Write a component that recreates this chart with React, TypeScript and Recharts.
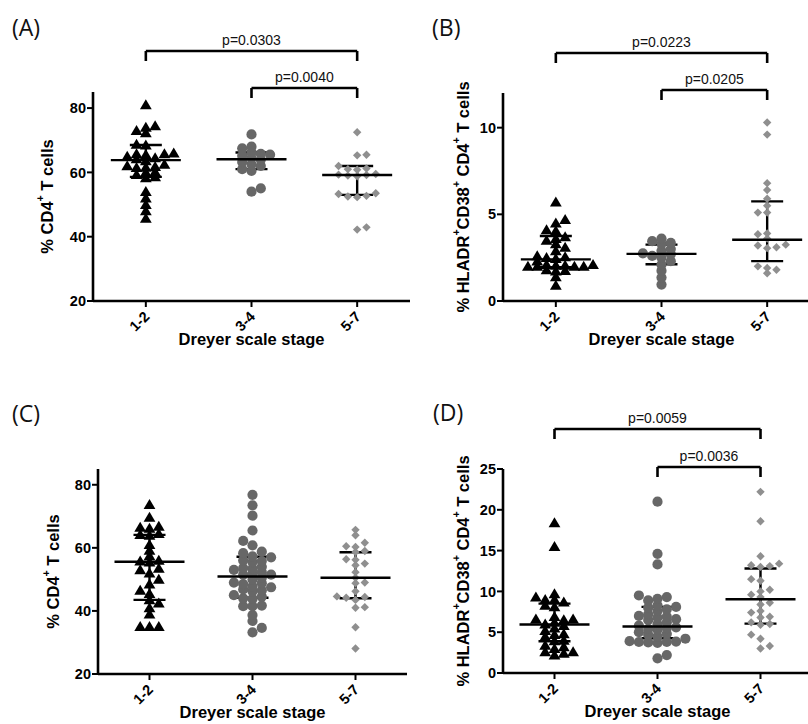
import React from 'react';
import { ScatterChart, Scatter, XAxis, YAxis, ReferenceLine, ErrorBar, Label } from 'recharts';

const FONT = "'Liberation Sans', Arial, Helvetica, sans-serif";

const stages = ['1-2', '3-4', '5-7'];
const stagePositions = [1, 2, 3];
const comparisons: [number, number][] = [[1, 3], [2, 3]];

// (A) % CD4+ T cells
const aStage12 = [81, 74.5, 74, 73, 72.3, 68.7, 68.5, 66, 65.8, 65.8, 65.5, 65, 64.5, 64.2, 63.6, 62.5, 62, 61.8, 61.6, 61.5, 60.2, 60, 59.3, 58.6, 58.3, 54, 52, 50, 48, 45.7];
const aStage34 = [71.8, 68, 67.5, 66.2, 65.8, 65.5, 65.2, 64.5, 64, 63.2, 62.5, 62, 61, 60.5, 55, 54];
const aStage57 = [72.5, 65.5, 65.3, 62, 61.2, 61, 60.8, 59.5, 59.3, 59.2, 59, 58.8, 53.5, 53.3, 52.7, 52.5, 52.3, 42.9, 42.2];
const aMedian = [63.8, 64.1, 59.2];
const aQ1 = [58.6, 61.0, 53.0];
const aQ3 = [68.5, 66.2, 62.0];
const aPValues = ['p=0.0303', 'p=0.0040'];

// (B) % HLADR+CD38+ of CD4+ T cells
const bStage12 = [5.7, 4.7, 4.5, 3.7, 4.05, 4.1, 3.6, 3.5, 3.3, 3.1, 2.9, 2.55, 2.5, 2.6, 2.45, 2.3, 2.0, 2.05, 2.0, 2.1, 2.05, 2.0, 2.0, 2.1, 1.75, 1.8, 1.72, 1.4, 0.9];
const bStage34 = [3.6, 3.45, 3.35, 3.3, 3.0, 2.9, 2.75, 2.7, 2.6, 2.5, 2.3, 2.1, 1.75, 1.35, 0.95];
const bStage57 = [10.3, 9.6, 6.8, 6.4, 5.9, 5.5, 5.1, 5.1, 3.9, 3.85, 3.6, 3.25, 3.1, 3.05, 3.2, 2.0, 1.9, 1.8, 1.6];
const bMedian = [2.4, 2.72, 3.53];
const bQ1 = [1.95, 2.12, 2.3];
const bQ3 = [3.75, 3.25, 5.75];
const bPValues = ['p=0.0223', 'p=0.0205'];

// (C) % CD4+ T cells, second cohort
const cStage12 = [73.7, 69.7, 66.8, 66.5, 66.2, 64.5, 64.2, 64, 61, 59.2, 57.5, 56, 55.8, 55.5, 53.5, 53, 52, 50, 48.5, 46.5, 45.5, 43.5, 42.5, 41, 39, 35, 35, 35];
const cStage34 = [76.8, 73.5, 70.2, 65.5, 62.2, 60.8, 58.8, 58.3, 57.3, 57, 56, 55.8, 55.5, 54, 53.6, 53.4, 53, 52.3, 51.8, 51.5, 51.5, 50.5, 50, 49, 48.8, 48.5, 47.8, 47.5, 46.8, 46.5, 46.2, 45, 44.5, 44, 43.8, 41.7, 41.5, 41.5, 38.7, 36.8, 34.6, 33.2];
const cStage57 = [65.7, 64, 61.6, 60.5, 60.3, 59, 58.7, 56.4, 56.2, 55, 54.5, 52.3, 50.5, 49, 48.8, 46.2, 44.6, 44.4, 44.2, 43.5, 41.2, 41, 34.8, 28.1];
const cMedian = [55.6, 50.9, 50.5];
const cQ1 = [43.5, 44.2, 44.0];
const cQ3 = [64.1, 57.2, 58.6];
const cPValues: string[] = [];

// (D) % HLADR+CD38+ of CD4+ T cells, second cohort
const dStage12 = [18.4, 15.5, 9.7, 9.3, 9.0, 9.0, 8.7, 8.3, 8.1, 6.9, 6.6, 6.6, 6.5, 6.2, 6.0, 5.8, 5.5, 5.2, 4.8, 4.7, 4.45, 4.0, 3.95, 3.4, 3.2, 3.0, 2.6, 2.6, 2.4, 2.2];
const dStage34 = [21, 14.6, 13.3, 9.5, 9.3, 9.1, 8.9, 8.3, 8.1, 8.0, 7.8, 7.6, 7.2, 7.0, 6.9, 6.8, 6.6, 6.5, 6.2, 6.0, 5.8, 5.6, 5.5, 5.4, 5.3, 5.0, 4.8, 4.7, 4.5, 4.2, 3.9, 3.85, 3.8, 3.8, 3.75, 3.7, 2.2, 1.8];
const dStage57 = [22.2, 18.6, 14.3, 13.4, 13.2, 13.1, 13.0, 11.5, 11.3, 10.2, 10.0, 9.6, 9.3, 8.6, 8.4, 7.6, 7.4, 6.9, 6.8, 6.2, 6.0, 5.9, 4.7, 4.2, 3.3, 3.0];
const dMedian = [5.95, 5.7, 9.03];
const dQ1 = [3.9, 4.25, 6.05];
const dQ3 = [8.5, 8.1, 12.8];
const dPValues = ['p=0.0059', 'p=0.0036'];

type TitlePart = [string, boolean];
const cd4Title: TitlePart[] = [['% CD4', false], ['+', true], [' T cells', false]];
const activatedTitle: TitlePart[] = [
  ['% HLADR', false], ['+', true], ['CD38', false], ['+', true], [' CD4', false], ['+', true], [' T cells', false],
];

interface PanelConfig {
  letter: string;
  left: number;
  top: number;
  width: number;
  height: number;
  plotTop: number;
  axisWidth: number;
  axisHeight: number;
  yDomain: [number, number];
  yTicks: number[];
  titleGap: number;
  yTitle: TitlePart[];
  groups: number[][];
  median: number[];
  q1: number[];
  q3: number[];
  pValues: string[];
  bracketRise: number[];
  letterX: number;
  letterY: number;
}

const panels: PanelConfig[] = [
  {
    letter: '(A)', left: 0, top: 0, width: 410, height: 360, plotTop: 92, axisWidth: 93, axisHeight: 59,
    yDomain: [20, 85], yTicks: [20, 40, 60, 80], titleGap: 46, yTitle: cd4Title,
    groups: [aStage12, aStage34, aStage57], median: aMedian, q1: aQ1, q3: aQ3,
    pValues: aPValues, bracketRise: [41, 4], letterX: 12, letterY: 27,
  },
  {
    letter: '(B)', left: 400, top: 0, width: 420, height: 360, plotTop: 93, axisWidth: 103, axisHeight: 59,
    yDomain: [0, 12], yTicks: [0, 5, 10], titleGap: 40, yTitle: activatedTitle,
    groups: [bStage12, bStage34, bStage57], median: bMedian, q1: bQ1, q3: bQ3,
    pValues: bPValues, bracketRise: [40, 3], letterX: 32, letterY: 27,
  },
  {
    letter: '(C)', left: 0, top: 380, width: 407, height: 344, plotTop: 89, axisWidth: 98, axisHeight: 50,
    yDomain: [20, 85], yTicks: [20, 40, 60, 80], titleGap: 45, yTitle: cd4Title,
    groups: [cStage12, cStage34, cStage57], median: cMedian, q1: cQ1, q3: cQ3,
    pValues: cPValues, bracketRise: [], letterX: 12, letterY: 33,
  },
  {
    letter: '(D)', left: 400, top: 380, width: 412, height: 344, plotTop: 89, axisWidth: 103, axisHeight: 51,
    yDomain: [0, 25], yTicks: [0, 5, 10, 15, 20, 25], titleGap: 40, yTitle: activatedTitle,
    groups: [dStage12, dStage34, dStage57], median: dMedian, q1: dQ1, q3: dQ3,
    pValues: dPValues, bracketRise: [40, 2], letterX: 33, letterY: 32,
  },
];

// Horizontal spacing between neighbouring markers and the vertical band
// inside which two markers count as sitting on the same row.
const MARKER_GAP = 9.3;
const ROW_BAND = 5;

// Row-style dot plot: each value keeps its y and is pushed sideways in
// half-marker steps until no marker in the same row band is too close.
function beeswarm(values: number[], center: number, pxPerX: number, pxPerY: number) {
  const placed: { dx: number; py: number }[] = [];
  const out: { x: number; y: number }[] = [];
  let balance = 0;
  [...values].sort((a, b) => a - b).forEach((v) => {
    const py = v * pxPerY;
    let dx = 0;
    for (let k = 0; k < 60; k++) {
      const mag = (k * MARKER_GAP) / 2;
      const first = balance > 0 ? -mag : mag;
      const cands = k === 0 ? [0] : [first, -first];
      const hit = cands.find((c) =>
        placed.every((p) => Math.abs(p.dx - c) >= MARKER_GAP - 0.01 || Math.abs(p.py - py) >= ROW_BAND),
      );
      if (hit !== undefined) {
        dx = hit;
        break;
      }
    }
    placed.push({ dx, py });
    balance += dx;
    out.push({ x: center + dx / pxPerX, y: v });
  });
  return out;
}

const Triangle = (props: any) => {
  const { cx, cy } = props;
  if (cx == null || cy == null) return null;
  return <polygon points={`${cx},${cy - 5.6} ${cx - 5.9},${cy + 4.4} ${cx + 5.9},${cy + 4.4}`} fill="#000" />;
};

const Dot = (props: any) => {
  const { cx, cy } = props;
  if (cx == null || cy == null) return null;
  return <circle cx={cx} cy={cy} r={5.1} fill="#676767" />;
};

const Diamond = (props: any) => {
  const { cx, cy } = props;
  if (cx == null || cy == null) return null;
  const s = 4.2;
  return <polygon points={`${cx},${cy - s} ${cx + s},${cy} ${cx},${cy + s} ${cx - s},${cy}`} fill="#8f8f8f" />;
};

const MedianBar = (props: any) => {
  const { cx, cy } = props;
  if (cx == null || cy == null) return null;
  return <line x1={cx - 35} x2={cx + 35} y1={cy} y2={cy} stroke="#000" strokeWidth={2.4} />;
};

const StageTick = (props: any) => {
  const { x, y, payload } = props;
  const label = stages[Math.round(payload.value) - 1] ?? '';
  const ax = x + 1;
  const ay = y + 5;
  return (
    <text
      x={ax}
      y={ay}
      textAnchor="end"
      dominantBaseline="central"
      transform={`rotate(-45, ${ax}, ${ay})`}
      fontFamily={FONT}
      fontWeight="bold"
      fontSize={14.5}
      fill="#000"
    >
      {label}
    </text>
  );
};

const shapes = [Triangle, Dot, Diamond];

function Panel({ cfg }: { cfg: PanelConfig }) {
  const plotW = cfg.width - cfg.axisWidth;
  const plotH = cfg.height - cfg.plotTop - cfg.axisHeight;
  const pxPerX = plotW / 3;
  const pxPerY = plotH / (cfg.yDomain[1] - cfg.yDomain[0]);

  const groupPoints = cfg.groups.map((vals, i) => beeswarm(vals, stagePositions[i], pxPerX, pxPerY));
  const stats = stagePositions.map((x, i) => ({
    x,
    y: cfg.median[i],
    iqr: [cfg.median[i] - cfg.q1[i], cfg.q3[i] - cfg.median[i]],
  }));

  const titleX = cfg.axisWidth - cfg.titleGap;
  const titleY = cfg.plotTop + plotH / 2;

  const YTitle = () => {
    let shift = 0;
    return (
      <text
        x={titleX}
        y={titleY}
        transform={`rotate(-90, ${titleX}, ${titleY})`}
        textAnchor="middle"
        dominantBaseline="central"
        fontFamily={FONT}
        fontWeight="bold"
        fontSize={16.5}
        fill="#000"
      >
        {cfg.yTitle.map(([txt, sup], i) => {
          const target = sup ? -7 : 0;
          const dy = target - shift;
          shift = target;
          return (
            <tspan key={i} dy={dy} fontSize={sup ? 10.5 : 16.5}>
              {txt}
            </tspan>
          );
        })}
      </text>
    );
  };

  const XTitle = () => (
    <text
      x={cfg.axisWidth + plotW / 2}
      y={cfg.plotTop + plotH + 38}
      textAnchor="middle"
      dominantBaseline="central"
      fontFamily={FONT}
      fontWeight="bold"
      fontSize={16.5}
      fill="#000"
    >
      Dreyer scale stage
    </text>
  );

  const top = cfg.yDomain[1];
  const drop = 10 / pxPerY;

  return (
    <div style={{ position: 'absolute', left: cfg.left, top: cfg.top }}>
      <div
        style={{
          position: 'absolute',
          left: cfg.letterX,
          top: cfg.letterY - 16,
          fontFamily: "'Open Sans', sans-serif",
          fontSize: 23,
          lineHeight: '32px',
          color: '#111',
          whiteSpace: 'nowrap',
        }}
      >
        {cfg.letter}
      </div>
      <ScatterChart
        width={cfg.width}
        height={cfg.height}
        margin={{ top: cfg.plotTop, right: 0, bottom: 0, left: 0 }}
      >
        <XAxis
          type="number"
          dataKey="x"
          domain={[0.5, 3.5]}
          ticks={stagePositions}
          allowDataOverflow
          interval={0}
          height={cfg.axisHeight}
          axisLine={{ stroke: '#000', strokeWidth: 2.6 }}
          tickLine={{ stroke: '#000', strokeWidth: 2 }}
          tickSize={6}
          tick={<StageTick />}
        >
          <Label content={<XTitle />} />
        </XAxis>
        <YAxis
          type="number"
          dataKey="y"
          domain={cfg.yDomain}
          ticks={cfg.yTicks}
          allowDataOverflow
          interval={0}
          width={cfg.axisWidth}
          axisLine={{ stroke: '#000', strokeWidth: 2.6 }}
          tickLine={{ stroke: '#000', strokeWidth: 2 }}
          tickSize={6}
          tickMargin={1}
          tick={{ fill: '#000', fontSize: 14.5, fontWeight: 'bold', fontFamily: FONT }}
        >
          <Label content={<YTitle />} />
        </YAxis>
        {groupPoints.map((pts, i) => (
          <Scatter key={stages[i]} data={pts} shape={shapes[i]} isAnimationActive={false} />
        ))}
        <Scatter data={stats} shape={MedianBar} isAnimationActive={false}>
          <ErrorBar dataKey="iqr" direction="y" width={16} stroke="#000" strokeWidth={2.4} />
        </Scatter>
        {cfg.pValues.map((text, i) => {
          const [from, to] = comparisons[i];
          const level = top + cfg.bracketRise[i] / pxPerY;
          const foot = level - drop;
          return [
            <ReferenceLine
              key={`h${i}`}
              ifOverflow="visible"
              segment={[{ x: from, y: level }, { x: to, y: level }]}
              stroke="#000"
              strokeWidth={2.6}
              label={{ value: text, position: 'top', offset: 6, fontSize: 14, fontFamily: FONT, fill: '#111' }}
            />,
            <ReferenceLine
              key={`l${i}`}
              ifOverflow="visible"
              segment={[{ x: from, y: level }, { x: from, y: foot }]}
              stroke="#000"
              strokeWidth={2.6}
            />,
            <ReferenceLine
              key={`r${i}`}
              ifOverflow="visible"
              segment={[{ x: to, y: level }, { x: to, y: foot }]}
              stroke="#000"
              strokeWidth={2.6}
            />,
          ];
        })}
      </ScatterChart>
    </div>
  );
}

export default function App() {
  return (
    <div
      style={{
        position: 'absolute',
        left: 0,
        top: 0,
        width: 808,
        height: 724,
        overflow: 'hidden',
        background: '#fff',
      }}
    >
      {panels.map((cfg) => (
        <Panel key={cfg.letter} cfg={cfg} />
      ))}
    </div>
  );
}
